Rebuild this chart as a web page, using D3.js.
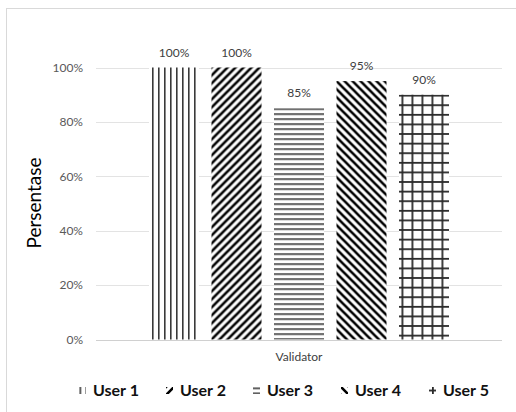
<!DOCTYPE html>
<html><head><meta charset="utf-8">
<script src="https://cdn.jsdelivr.net/npm/d3@7"></script>
<style>body{margin:0;background:#fff}svg{display:block}</style>
</head><body>
<script>
const series = ["User 1","User 2","User 3","User 4","User 5"];
const values = [1.00, 1.00, 0.85, 0.95, 0.90];
const valueLabels = ["100%","100%","85%","95%","90%"];
const yTicks = [0, 0.2, 0.4, 0.6, 0.8, 1.0];
const category = "Validator";
const yTitle = "Persentase";
const patternKinds = ["vert","diagUp","horiz","diagDown","grid"];

const W = 516, H = 412;
const FONT = "Lato, 'Open Sans', sans-serif";
const svg = d3.select("body").append("svg").attr("width", W).attr("height", H);
const defs = svg.append("defs");

// pattern factory
function makePattern(id, kind, ox, oy){
  const sizes = {vert:[6,6], horiz:[5,5], diagUp:[8,8], diagDown:[8,8], grid:[10,9.6]};
  const [w,h] = sizes[kind];
  const p = defs.append("pattern").attr("id", id).attr("patternUnits","userSpaceOnUse")
    .attr("x", ox).attr("y", oy).attr("width", w).attr("height", h);
  p.append("rect").attr("width", w).attr("height", h).attr("fill","#fff");
  if (kind === "vert") p.append("rect").attr("width",1.6).attr("height",h).attr("fill","#3a3a3a");
  if (kind === "horiz") p.append("rect").attr("width",w).attr("height",1.6).attr("fill","#3a3a3a");
  if (kind === "diagUp") p.append("path").attr("d","M-2,10 L10,-2 M-2,2 L2,-2 M6,10 L10,6").attr("stroke","#000").attr("stroke-width",2.6);
  if (kind === "diagDown") p.append("path").attr("d","M-2,-2 L10,10 M-2,6 L2,10 M6,-2 L10,2").attr("stroke","#000").attr("stroke-width",2.6);
  if (kind === "grid") {
    p.append("rect").attr("x",4).attr("width",1.8).attr("height",h).attr("fill","#2a2a2a");
    p.append("rect").attr("width",w).attr("height",1.8).attr("fill","#2a2a2a");
  }
  return `url(#${id})`;
}

// chart border
svg.append("rect").attr("x",6.5).attr("y",8.5).attr("width",540).attr("height",440)
  .attr("fill","none").attr("stroke","#d9d9d9");

const y = d3.scaleLinear().domain([0,1]).range([339.5, 67.5]);
const x = d3.scaleBand().domain(series).range([149, 449]).paddingInner(0.2).paddingOuter(0);
const plotL = 96, plotR = 502;

// gridlines
svg.append("g").selectAll("line").data(yTicks).join("line")
  .attr("x1", plotL).attr("x2", plotR)
  .attr("y1", d => Math.round(y(d))+0.5).attr("y2", d => Math.round(y(d))+0.5)
  .attr("stroke", d => d===0 ? "#d0d0d0" : "#e3e3e3").attr("stroke-width",1);

// y axis labels
const yAxis = d3.axisLeft(y).tickValues(yTicks).tickFormat(d3.format(".0%")).tickSize(0).tickPadding(0);
const ya = svg.append("g").attr("transform","translate(83,0)").call(yAxis);
ya.select(".domain").remove();
ya.selectAll("text").attr("font-family",FONT).attr("font-size",12).attr("fill","#595959");

// bars
const barOffX = [-3, 0, 0, 0, -1.5];
const barFill = series.map((d,i) => makePattern("b"+i, patternKinds[i], x(d) + barOffX[i], y(values[i])));
svg.append("g").selectAll("rect").data(series).join("rect")
  .attr("x", d => x(d)).attr("width", x.bandwidth())
  .attr("y", (d,i) => y(values[i])).attr("height", (d,i) => y(0) - y(values[i]))
  .attr("fill", (d,i) => barFill[i]);

// data labels
svg.append("g").selectAll("text").data(series).join("text")
  .attr("x", d => x(d) + x.bandwidth()/2).attr("y", (d,i) => y(values[i]) - 11)
  .attr("text-anchor","middle").attr("font-family",FONT)
  .attr("font-size",12).attr("fill","#404040").text((d,i) => valueLabels[i]);

// axis titles
svg.append("text").attr("x", 299).attr("y", 361).attr("text-anchor","middle")
  .attr("font-family",FONT).attr("font-size",12).attr("fill","#404040").text(category);
svg.append("text").attr("transform","translate(41,203) rotate(-90)").attr("text-anchor","middle")
  .attr("font-family",FONT).attr("font-size",19).attr("fill","#000").text(yTitle);

// legend (pattern offsets are in each item's local coordinates)
const legX = [79, 166, 253, 341, 429];
const legY = 387;
const legOff = [[0.5,0],[0,0],[0,0.5],[0,0],[-1,2.6]];
const legFill = series.map((d,i) => makePattern("l"+i, patternKinds[i], legOff[i][0], legOff[i][1]));
const lg = svg.append("g").selectAll("g").data(series).join("g")
  .attr("transform", (d,i) => `translate(${legX[i]},${legY})`);
lg.append("rect").attr("x",0).attr("y",0).attr("width",7).attr("height",7)
  .attr("fill", (d,i) => legFill[i]);
lg.append("text").attr("x",14).attr("y",9)
  .attr("font-family",FONT).attr("font-size",16).attr("font-weight",700)
  .attr("fill","#111").text(d => d);
</script>
</body></html>
